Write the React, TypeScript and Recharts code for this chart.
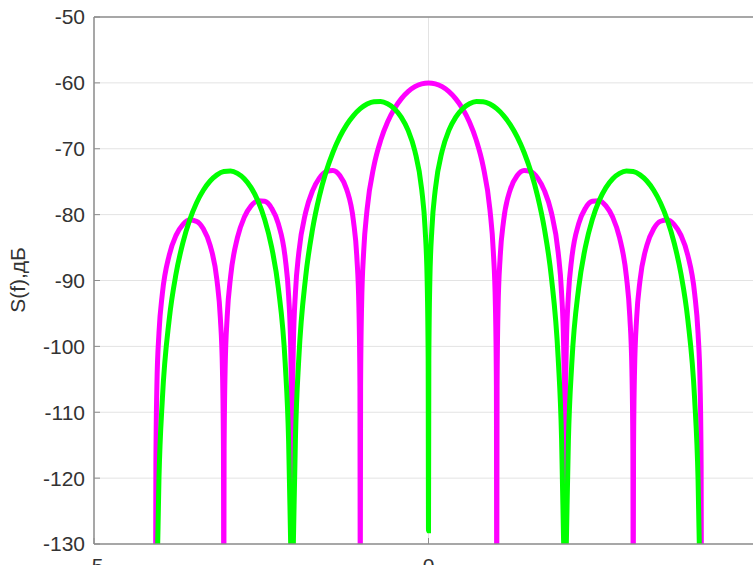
import { LineChart, Line, XAxis, YAxis, CartesianGrid, ReferenceLine } from "recharts";

// frequency (x) and spectrum level in dB
const magentaFreq = [
  -4.08, -4.075, -4.06, -4.029, -3.978, -3.876, -3.774, -3.672, -3.57, -3.468, -3.366, -3.264, -3.162, -3.111, -3.08, -3.065,
  -3.06, -3.055, -3.04, -3.009, -2.958, -2.856, -2.754, -2.652, -2.55, -2.448, -2.346, -2.244, -2.142, -2.091, -2.06, -2.045,
  -2.04, -2.035, -2.02, -1.989, -1.938, -1.836, -1.734, -1.632, -1.53, -1.428, -1.326, -1.224, -1.122, -1.071, -1.04, -1.025,
  -1.02, -1.015, -1.0, -0.969, -0.918, -0.816, -0.714, -0.612, -0.51, -0.408, -0.306, -0.204, -0.102,
  0,
  0.102, 0.204, 0.306, 0.408, 0.51, 0.612, 0.714, 0.816, 0.918, 0.969, 1.0, 1.015, 1.02,
  1.025, 1.04, 1.071, 1.122, 1.224, 1.326, 1.428, 1.53, 1.632, 1.734, 1.836, 1.938, 1.989, 2.02, 2.035, 2.04,
  2.045, 2.06, 2.091, 2.142, 2.244, 2.346, 2.448, 2.55, 2.652, 2.754, 2.856, 2.958, 3.009, 3.04, 3.055, 3.06,
  3.065, 3.08, 3.111, 3.162, 3.264, 3.366, 3.468, 3.57, 3.672, 3.774, 3.876, 3.978, 4.029, 4.06, 4.075, 4.08,
];
const magentaDb = [
  -140, -118.05, -105.98, -97.99, -91.96, -86.16, -83.15, -81.51, -80.82, -81.01, -82.15, -84.66, -89.97, -95.74, -103.59, -115.58,
  -140, -115.55, -103.47, -95.45, -89.39, -83.5, -80.41, -78.68, -77.9, -77.98, -79.02, -81.41, -86.59, -92.29, -100.09, -112.06,
  -140, -112.02, -99.92, -91.86, -85.72, -79.66, -76.39, -74.46, -73.47, -73.3, -74.06, -76.14, -80.97, -86.48, -94.16, -106.06,
  -140, -105.98, -93.81, -85.61, -79.23, -72.62, -68.69, -65.94, -63.92, -62.42, -61.33, -60.58, -60.14,
  -60,
  -60.14, -60.58, -61.33, -62.42, -63.92, -65.94, -68.69, -72.62, -79.23, -85.61, -93.81, -105.98, -140,
  -106.06, -94.16, -86.48, -80.97, -76.14, -74.06, -73.3, -73.47, -74.46, -76.39, -79.66, -85.72, -91.86, -99.92, -112.02, -140,
  -112.06, -100.09, -92.29, -86.59, -81.41, -79.02, -77.98, -77.9, -78.68, -80.41, -83.5, -89.39, -95.45, -103.47, -115.55, -140,
  -115.58, -103.59, -95.74, -89.97, -84.66, -82.15, -81.01, -80.82, -81.51, -83.15, -86.16, -91.96, -97.99, -105.98, -118.05, -140,
];

const greenFreq = [
  -4.08, -4.06, -4.029, -3.978, -3.876, -3.774, -3.672, -3.57, -3.468, -3.366, -3.264, -3.162, -3.06, -2.958, -2.856, -2.754,
  -2.652, -2.55, -2.448, -2.346, -2.244, -2.142, -2.091, -2.06, -2.04, -2.02, -1.989, -1.938, -1.836, -1.734, -1.632, -1.53,
  -1.428, -1.326, -1.224, -1.122, -1.02, -0.918, -0.816, -0.714, -0.612, -0.51, -0.408, -0.306, -0.204, -0.102, -0.051, -0.02,
  -0.005, 0, 0.005,
  0.02, 0.051, 0.102, 0.204, 0.306, 0.408, 0.51, 0.612, 0.714, 0.816, 0.918, 1.02, 1.122, 1.224, 1.326, 1.428,
  1.53, 1.632, 1.734, 1.836, 1.938, 1.989, 2.02, 2.04, 2.06, 2.091, 2.142, 2.244, 2.346, 2.448, 2.55, 2.652,
  2.754, 2.856, 2.958, 3.06, 3.162, 3.264, 3.366, 3.468, 3.57, 3.672, 3.774, 3.876, 3.978, 4.029, 4.06, 4.08,
];
const greenDb = [
  -140, -136.04, -120.07, -107.97, -95.92, -89.0, -84.28, -80.82, -78.23, -76.3, -74.9, -73.96, -73.46, -73.39, -73.74, -74.55,
  -75.9, -77.9, -80.76, -84.88, -91.17, -102.59, -114.37, -130.15, -140, -129.97, -113.94, -101.72, -89.43, -82.25, -77.24, -73.47,
  -70.53, -68.21, -66.38, -64.97, -63.92, -63.22, -62.86, -62.83, -63.17, -63.92, -65.19, -67.18, -70.34, -76.15, -82.12, -90.06,
  -102.1, -128, -102.1,
  -90.06, -82.12, -76.15, -70.34, -67.18, -65.19, -63.92, -63.17, -62.83, -62.86, -63.22, -63.92, -64.97, -66.38, -68.21, -70.53,
  -73.47, -77.24, -82.25, -89.43, -101.72, -113.94, -129.97, -140, -130.15, -114.37, -102.59, -91.17, -84.88, -80.76, -77.9, -75.9,
  -74.55, -73.74, -73.39, -73.46, -73.96, -74.9, -76.3, -78.23, -80.82, -84.28, -89.0, -95.92, -107.97, -120.07, -136.04, -140,
];

const xTicks = [-5, 0, 5];
const yTicks = [-130, -120, -110, -100, -90, -80, -70, -60, -50];

const magentaData = magentaFreq.map((x, i) => ({ x, y: magentaDb[i] }));
const greenData = greenFreq.map((x, i) => ({ x, y: greenDb[i] }));

const AXIS = "#8e8e8e";
const TEXT = "#333333";
const FONT = "'Liberation Sans', Arial, sans-serif";

const XTick = (props: any) => {
  const { x, y, payload } = props;
  const axisY = y - 14; // tickSize 0, tickMargin 14
  return (
    <g>
      <line x1={x} x2={x} y1={axisY} y2={axisY - 6} stroke={AXIS} strokeWidth={1} />
      <text x={x} y={y} dy="0.71em" textAnchor="middle" fontSize={21} fontFamily={FONT} fill={TEXT}>
        {payload.value}
      </text>
    </g>
  );
};

const YTick = (props: any) => {
  const { x, y, payload } = props;
  const axisX = x + 9; // tickMargin 9
  return (
    <g>
      <line x1={axisX} x2={axisX + 6} y1={y} y2={y} stroke={AXIS} strokeWidth={1} />
      <text x={x} y={y} dy="0.355em" textAnchor="end" fontSize={21} fontFamily={FONT} fill={TEXT}>
        {payload.value}
      </text>
    </g>
  );
};

const YLabel = () => (
  <text
    x={25}
    y={280}
    transform="rotate(-90, 25, 280)"
    textAnchor="middle"
    fontSize={21}
    fontFamily={FONT}
    fill={TEXT}
  >
    S(f),дБ
  </text>
);

export default function App() {
  return (
    <div
      style={{
        position: "fixed",
        left: 0,
        top: 0,
        width: 753,
        height: 565,
        overflow: "hidden",
        background: "#fff",
      }}
    >
      <LineChart width={800} height={600} margin={{ top: 17, right: 37, bottom: 26, left: 34 }}>
        <CartesianGrid stroke="#e3e3e3" strokeWidth={1} />
        <XAxis
          type="number"
          dataKey="x"
          domain={[-5, 5]}
          ticks={xTicks}
          allowDataOverflow
          height={30}
          tickSize={0}
          tickMargin={14}
          tickLine={false}
          tick={<XTick />}
          axisLine={{ stroke: AXIS, strokeWidth: 1.5 }}
        />
        <YAxis
          type="number"
          domain={[-130, -50]}
          ticks={yTicks}
          allowDataOverflow
          width={60}
          tickSize={0}
          tickMargin={9}
          tickLine={false}
          tick={<YTick />}
          axisLine={{ stroke: AXIS, strokeWidth: 1.5 }}
          label={<YLabel />}
        />
        <ReferenceLine y={-50} stroke={AXIS} strokeWidth={1.5} />
        <Line
          data={magentaData}
          dataKey="y"
          type="monotone"
          stroke="#ff00ff"
          strokeWidth={5}
          dot={false}
          activeDot={false}
          isAnimationActive={false}
        />
        <Line
          data={greenData}
          dataKey="y"
          type="monotone"
          stroke="#00ff00"
          strokeWidth={5}
          dot={false}
          activeDot={false}
          isAnimationActive={false}
        />
      </LineChart>
    </div>
  );
}
